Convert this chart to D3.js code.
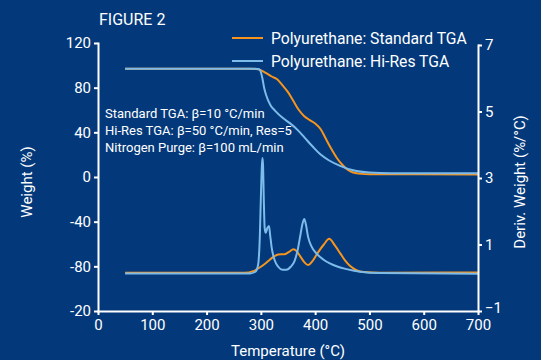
<!DOCTYPE html>
<html>
<head>
<meta charset="utf-8">
<script src="https://cdn.jsdelivr.net/npm/d3@7"></script>
<style>
  html, body { margin: 0; padding: 0; background: #03397a; }
  svg { display: block; font-family: Roboto, "Liberation Sans", sans-serif; }
  .axis path, .axis line { stroke: #fff; stroke-width: 2; }
  .axis text { fill: #fff; font-size: 15px; font-family: Roboto, sans-serif; }
</style>
</head>
<body>
<svg id="chart" width="541" height="360"></svg>
<script>
  "use strict";

  // temperature axis
  const X_TICKS = [0, 100, 200, 300, 400, 500, 600, 700];
  // weight axis (left) - the bottom label reads "-20" in the original
  const WEIGHT_TICKS = [-120, -80, -40, 0, 40, 80, 120];
  const WEIGHT_TICK_LABELS = ['-20', '-80', '-40', '0', '40', '80', '120'];
  // derivative axis (right)
  const DERIV_TICKS = [-1, 1, 3, 5, 7];

  // Standard TGA weight curve
  const STD_WEIGHT_T = [50, 280, 295, 310, 320, 330, 340, 350, 360, 370, 380, 390, 400, 410, 420, 430, 440, 450, 460, 470, 485, 500, 700];
  const STD_WEIGHT = [97, 97, 96.5, 93, 90, 87.5, 82, 76, 68, 60, 54.5, 51, 48, 43, 34, 25, 17, 11, 6.5, 4, 2.8, 2.5, 2.3];

  // Hi-Res TGA weight curve
  const HIRES_WEIGHT_T = [50, 290, 297, 300, 303, 306, 310, 318, 326, 340, 354, 368, 381, 395, 409, 425, 446, 470, 500, 540, 700];
  const HIRES_WEIGHT = [97, 97, 96.5, 94, 88, 80, 73, 64, 59.5, 53, 48, 42, 35, 27.5, 20.5, 15, 10, 6, 4, 3.4, 3.3];

  // Standard TGA derivative
  const STD_DERIV_T = [50, 270, 286, 300, 310, 317, 325, 332, 344, 352, 360, 366, 372, 380, 387, 395, 406, 416, 426, 436, 446, 455, 464, 475, 490, 520, 700];
  const STD_DERIV = [0.15, 0.15, 0.2, 0.33, 0.45, 0.55, 0.65, 0.7, 0.71, 0.78, 0.86, 0.8, 0.66, 0.47, 0.38, 0.5, 0.78, 1.0, 1.17, 0.98, 0.74, 0.52, 0.36, 0.24, 0.17, 0.15, 0.16];

  // Hi-Res TGA derivative
  const HIRES_DERIV_T = [50, 280, 290, 295, 298, 300, 302, 303, 304, 305.5, 307, 309, 312, 315, 317, 320, 325, 332, 340, 347, 355, 362, 368, 373, 377, 380, 383, 387, 393, 403, 415, 427, 442, 458, 483, 520, 700];
  const HIRES_DERIV = [0.13, 0.13, 0.18, 0.4, 1.2, 2.4, 3.4, 3.6, 3.4, 2.3, 1.5, 1.35, 1.5, 1.56, 1.3, 0.9, 0.55, 0.33, 0.24, 0.24, 0.33, 0.5, 0.85, 1.3, 1.65, 1.77, 1.6, 1.23, 0.95, 0.72, 0.55, 0.43, 0.33, 0.26, 0.18, 0.14, 0.12];

  const ORANGE = '#f7941d';
  const BLUE = '#7cbbea';

  const svg = d3.select('#chart');

  const x = d3.scaleLinear().domain([0, 700]).range([98, 478]);
  const yL = d3.scaleLinear().domain([-120, 120]).range([311, 43]);
  const yR = d3.scaleLinear().domain([-1, 7]).range([311, 45]);

  /*
   * curves
   */
  function drawCurve(ts, vs, yScale, color) {
    const pts = ts.map(function (t, i) { return [t, vs[i]]; });
    const line = d3.line()
      .x(function (d) { return x(d[0]); })
      .y(function (d) { return yScale(d[1]); })
      .curve(d3.curveMonotoneX);
    svg.append('path')
      .datum(pts)
      .attr('d', line)
      .attr('fill', 'none')
      .attr('stroke', color)
      .attr('stroke-width', 2);
  }

  drawCurve(STD_DERIV_T, STD_DERIV, yR, ORANGE);
  drawCurve(HIRES_DERIV_T, HIRES_DERIV, yR, BLUE);
  drawCurve(STD_WEIGHT_T, STD_WEIGHT, yL, ORANGE);
  drawCurve(HIRES_WEIGHT_T, HIRES_WEIGHT, yL, BLUE);

  /*
   * axes
   */
  svg.append('g')
    .attr('class', 'axis')
    .attr('transform', 'translate(0,311)')
    .call(d3.axisBottom(x).tickValues(X_TICKS).tickSize(4).tickSizeOuter(0).tickPadding(4));

  svg.append('g')
    .attr('class', 'axis')
    .attr('transform', 'translate(98,0)')
    .call(d3.axisLeft(yL).tickValues(WEIGHT_TICKS).tickSize(4).tickSizeOuter(0).tickPadding(3)
      .tickFormat(function (d, i) { return WEIGHT_TICK_LABELS[i]; }));

  let right = svg.append('g')
    .attr('class', 'axis')
    .attr('transform', 'translate(478,0)')
    .call(d3.axisRight(yR).tickValues(DERIV_TICKS).tickSize(4).tickSizeOuter(0).tickPadding(3));
  // lift the bottom label a little so it clears "700"
  right.selectAll('.tick text').filter(function (d) { return d === -1; }).attr('dy', '0.1em');

  svg.selectAll('.axis .domain').attr('stroke-linecap', 'square');

  /*
   * titles
   */
  svg.append('text')
    .attr('x', 99).attr('y', 25)
    .attr('fill', '#fff').attr('font-size', 16)
    .text('FIGURE 2');

  svg.append('text')
    .attr('x', 288).attr('y', 356)
    .attr('text-anchor', 'middle')
    .attr('fill', '#fff').attr('font-size', 15)
    .text('Temperature (°C)');

  svg.append('text')
    .attr('transform', 'translate(32,182) rotate(-90)')
    .attr('text-anchor', 'middle')
    .attr('fill', '#fff').attr('font-size', 15)
    .text('Weight (%)');

  svg.append('text')
    .attr('transform', 'translate(525,182) rotate(-90)')
    .attr('text-anchor', 'middle')
    .attr('fill', '#fff').attr('font-size', 15)
    .text('Deriv. Weight (%/°C)');

  /*
   * legend
   */
  const LEGEND = [
    { label: 'Polyurethane: Standard TGA', color: ORANGE },
    { label: 'Polyurethane: Hi-Res TGA', color: BLUE }
  ];
  let legend = svg.selectAll('.legend')
    .data(LEGEND)
    .enter()
    .append('g')
    .attr('class', 'legend')
    .attr('transform', function (d, i) { return 'translate(232,' + (38 + i * 23) + ')'; });
  legend.append('line')
    .attr('x1', 0).attr('x2', 31)
    .attr('stroke', function (d) { return d.color; })
    .attr('stroke-width', 2);
  legend.append('text')
    .attr('x', 39).attr('y', 5.5)
    .attr('fill', '#fff').attr('font-size', 15.7)
    .text(function (d) { return d.label; });

  /*
   * annotation
   */
  const NOTES = ['Standard TGA: β=10 °C/min', 'Hi-Res TGA: β=50 °C/min, Res=5', 'Nitrogen Purge: β=100 mL/min'];
  svg.selectAll('.note')
    .data(NOTES)
    .enter()
    .append('text')
    .attr('class', 'note')
    .attr('x', 105)
    .attr('y', function (d, i) { return 118 + i * 17; })
    .attr('fill', '#fff').attr('font-size', 13)
    .text(function (d) { return d; });
</script>
</body>
</html>
